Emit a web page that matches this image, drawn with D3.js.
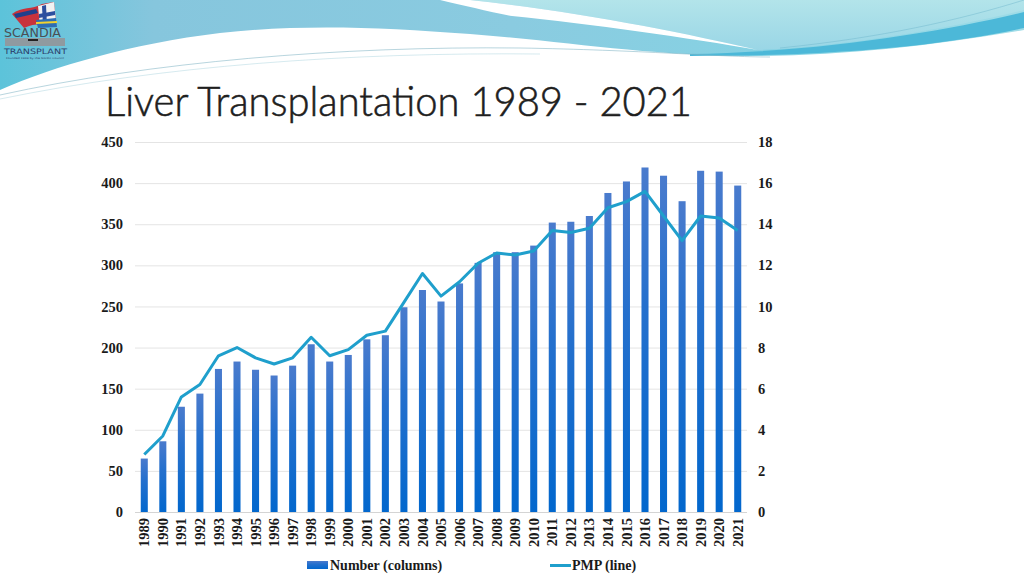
<!DOCTYPE html>
<html>
<head>
<meta charset="utf-8">
<script src="https://cdn.jsdelivr.net/npm/d3@7/dist/d3.min.js"></script>
<style>
  body { margin: 0; background: #fff; }
  svg { display: block; }
</style>
</head>
<body>
<script>
// data
var years = ["1989","1990","1991","1992","1993","1994","1995","1996","1997","1998","1999","2000",
  "2001","2002","2003","2004","2005","2006","2007","2008","2009","2010","2011","2012","2013",
  "2014","2015","2016","2017","2018","2019","2020","2021"];
var numbers = [65,86,128,144,174,183,173,166,178,204,183,191,210,215,249,270,256,278,303,316,316,324,
  352,353,360,388,402,419,409,378,415,414,397];
var pmp = [2.8,3.7,5.6,6.2,7.6,8.0,7.5,7.2,7.5,8.5,7.6,7.9,8.6,8.8,10.2,11.6,10.5,11.2,12.1,12.6,12.5,12.7,
  13.7,13.6,13.8,14.8,15.1,15.6,14.4,13.2,14.4,14.3,13.7];
var leftTicks = [0,50,100,150,200,250,300,350,400,450];
var rightTicks = [0,2,4,6,8,10,12,14,16,18];
var titleText = "Liver Transplantation 1989 - 2021";

var W = 1024, H = 576;
var plot = {left: 135, right: 747, top: 142, bottom: 512};
var labelFont = "'Liberation Serif', 'DejaVu Serif', serif";

var svg = d3.select("body").append("svg")
    .attr("width", W)
    .attr("height", H);

var defs = svg.append("defs");

// header gradients
var g1 = defs.append("linearGradient").attr("id", "hdrBlue")
    .attr("x1", 0).attr("x2", 1).attr("y1", 0).attr("y2", 0);
g1.append("stop").attr("offset", 0).attr("stop-color", "#5cc3da");
g1.append("stop").attr("offset", 0.15).attr("stop-color", "#86c6dd");
g1.append("stop").attr("offset", 0.5).attr("stop-color", "#8acbe0");
g1.append("stop").attr("offset", 0.75).attr("stop-color", "#86d2e3");
g1.append("stop").attr("offset", 1).attr("stop-color", "#9fdce7");

var g2 = defs.append("linearGradient").attr("id", "hdrPale")
    .attr("x1", 0).attr("x2", 0).attr("y1", 0).attr("y2", 1);
g2.append("stop").attr("offset", 0).attr("stop-color", "#b3e4ea");
g2.append("stop").attr("offset", 1).attr("stop-color", "#9ad6e6");

// bar gradient
var bg = defs.append("linearGradient").attr("id", "barGrad")
    .attr("x1", 0).attr("x2", 0).attr("y1", 0).attr("y2", 1);
bg.append("stop").attr("offset", 0).attr("stop-color", "#4a7bcd");
bg.append("stop").attr("offset", 0.4).attr("stop-color", "#2570cd");
bg.append("stop").attr("offset", 1).attr("stop-color", "#0267cd");

// header swooshes
var hdr = svg.append("g");
hdr.append("path")
    .attr("d", "M0,0 H1024 V30 C930,46 840,56 750,56 C650,56 570,42 470,34 C380,27 300,24 220,33 C130,44 55,66 0,90 Z")
    .attr("fill", "url(#hdrBlue)");
hdr.append("path")
    .attr("d", "M470,0 H1024 V10 C950,28 850,46 758,50 C680,32 580,12 470,0 Z")
    .attr("fill", "url(#hdrPale)");
hdr.append("path")
    .attr("d", "M440,0 L470,0 C580,12 680,32 758,50 C690,38 590,24 512,16 C490,12 462,5 440,0 Z")
    .attr("fill", "#ffffff");
hdr.append("path")
    .attr("d", "M690,54 C820,52 940,32 1024,12 V28 C950,44 850,56 690,56 Z")
    .attr("fill", "#4cb8d8");
hdr.append("path")
    .attr("d", "M0,95 C150,62 340,46 520,48 C640,50 720,57 770,57")
    .attr("fill", "none").attr("stroke", "#7fb3c4").attr("stroke-width", 0.8).attr("opacity", 0.7);
hdr.append("path")
    .attr("d", "M0,99 C160,66 350,52 540,54")
    .attr("fill", "none").attr("stroke", "#8cc4d2").attr("stroke-width", 0.6).attr("opacity", 0.6);
hdr.append("path")
    .attr("d", "M780,48 C880,38 960,20 1024,0")
    .attr("fill", "none").attr("stroke", "#6fb8cc").attr("stroke-width", 0.6).attr("opacity", 0.8);

// logo
var logo = svg.append("g");
logo.append("path").attr("d", "M12,14 C22,6 32,10 42,4 L54,2 L56,22 C46,26 36,22 24,28 Z").attr("fill", "#c8323c");
logo.append("path").attr("d", "M38,6 L54,2 L56,22 L40,26 Z").attr("fill", "#f2f2f2");
logo.append("path").attr("d", "M42,6 L46,5 L47,25 L43,26 Z").attr("fill", "#2d4f9e");
logo.append("path").attr("d", "M39,14 L55,11 L55,15 L39,18 Z").attr("fill", "#2d4f9e");
logo.append("path").attr("d", "M14,14 L36,9 L38,13 L16,18 Z").attr("fill", "#1f3f8c");
logo.append("path").attr("d", "M36,20 L56,18 L57,27 L38,28 Z").attr("fill", "#2d6db5");
logo.append("path").attr("d", "M36,22 L57,21 L57,23 L36,24 Z").attr("fill", "#f2d230");
logo.append("rect").attr("x", 5).attr("y", 38).attr("width", 60).attr("height", 8).attr("fill", "#8f9aa0");
logo.append("rect").attr("x", 28).attr("y", 39).attr("width", 10).attr("height", 2).attr("fill", "#222");
logo.append("text").attr("x", 4).attr("y", 37)
    .attr("font-family", "'DejaVu Sans', sans-serif").attr("font-size", 12).attr("fill", "#4a4f55")
    .attr("textLength", 57).attr("lengthAdjust", "spacingAndGlyphs").text("SCANDIA");
logo.append("text").attr("x", 4).attr("y", 54)
    .attr("font-family", "'DejaVu Sans', sans-serif").attr("font-size", 7.5).attr("fill", "#2c3e6a")
    .attr("textLength", 63).attr("lengthAdjust", "spacingAndGlyphs").text("TRANSPLANT");
logo.append("text").attr("x", 6).attr("y", 58.5)
    .attr("font-family", "'DejaVu Sans', sans-serif").attr("font-size", 2.5).attr("fill", "#2c3e6a")
    .attr("textLength", 58).attr("lengthAdjust", "spacingAndGlyphs").text("Founded 1969 by the Nordic Council");

// title
svg.append("text")
    .attr("x", 105).attr("y", 116)
    .attr("font-family", "Lato, 'Noto Sans', sans-serif")
    .attr("font-weight", 300)
    .attr("font-size", 42)
    .attr("fill", "#1e1e1e")
    .attr("stroke", "#1e1e1e").attr("stroke-width", 0.6)
    .attr("textLength", 587).attr("lengthAdjust", "spacingAndGlyphs")
    .text(titleText);

// scales
var x = d3.scaleBand()
    .domain(years)
    .range([plot.left, plot.right])
    .paddingInner(0.62)
    .paddingOuter(0.31);
var yL = d3.scaleLinear().domain([0, 450]).range([plot.bottom, plot.top]);
var yR = d3.scaleLinear().domain([0, 18]).range([plot.bottom, plot.top]);

// grid lines
svg.append("g").selectAll("line")
    .data(leftTicks)
    .enter().append("line")
    .attr("x1", plot.left).attr("x2", plot.right)
    .attr("y1", function(d){ return yL(d) + 0.5; })
    .attr("y2", function(d){ return yL(d) + 0.5; })
    .attr("stroke", function(d){ return d === 0 ? "#d4d4d4" : "#e4e4e4"; })
    .attr("stroke-width", 1);

// bars
svg.append("g").selectAll("rect")
    .data(numbers)
    .enter().append("rect")
    .attr("x", function(d, i){ return x(years[i]); })
    .attr("y", function(d){ return yL(d); })
    .attr("width", x.bandwidth())
    .attr("height", function(d){ return yL(0) - yL(d); })
    .attr("fill", "url(#barGrad)");

// pmp line
var line = d3.line()
    .x(function(d, i){ return x(years[i]) + x.bandwidth() / 2; })
    .y(function(d){ return yR(d); });
svg.append("path")
    .datum(pmp)
    .attr("d", line)
    .attr("fill", "none")
    .attr("stroke", "#1f9fcc")
    .attr("stroke-width", 3)
    .attr("stroke-linejoin", "round");

// left axis
var axL = svg.append("g")
    .attr("transform", "translate(" + (plot.left - 12) + ",0)")
    .call(d3.axisLeft(yL).tickValues(leftTicks).tickSize(0).tickPadding(0));
axL.select(".domain").remove();

// right axis
var axR = svg.append("g")
    .attr("transform", "translate(" + (plot.right + 11) + ",0)")
    .call(d3.axisRight(yR).tickValues(rightTicks).tickSize(0).tickPadding(0));
axR.select(".domain").remove();

// x axis
var axX = svg.append("g")
    .attr("transform", "translate(0," + plot.bottom + ")")
    .call(d3.axisBottom(x).tickSize(0).tickPadding(0));
axX.select(".domain").remove();
axX.selectAll("text")
    .attr("transform", "rotate(-90)")
    .attr("x", -6).attr("y", 0).attr("dy", "0.35em")
    .attr("text-anchor", "end");

svg.selectAll(".tick text")
    .attr("font-family", labelFont)
    .attr("font-weight", "bold")
    .attr("font-size", 14.5)
    .attr("fill", "#1a1a1a");

// legend
var leg = svg.append("g");
leg.append("rect")
    .attr("x", 307).attr("y", 561).attr("width", 21).attr("height", 8)
    .attr("fill", "url(#barGrad)");
leg.append("text")
    .attr("x", 330).attr("y", 570)
    .attr("font-family", labelFont).attr("font-weight", "bold").attr("font-size", 14)
    .attr("fill", "#1a1a1a").text("Number (columns)");
leg.append("line")
    .attr("x1", 550).attr("x2", 571).attr("y1", 565.5).attr("y2", 565.5)
    .attr("stroke", "#1f9fcc").attr("stroke-width", 3);
leg.append("text")
    .attr("x", 572).attr("y", 570)
    .attr("font-family", labelFont).attr("font-weight", "bold").attr("font-size", 14)
    .attr("fill", "#1a1a1a").text("PMP (line)");
</script>
</body>
</html>
